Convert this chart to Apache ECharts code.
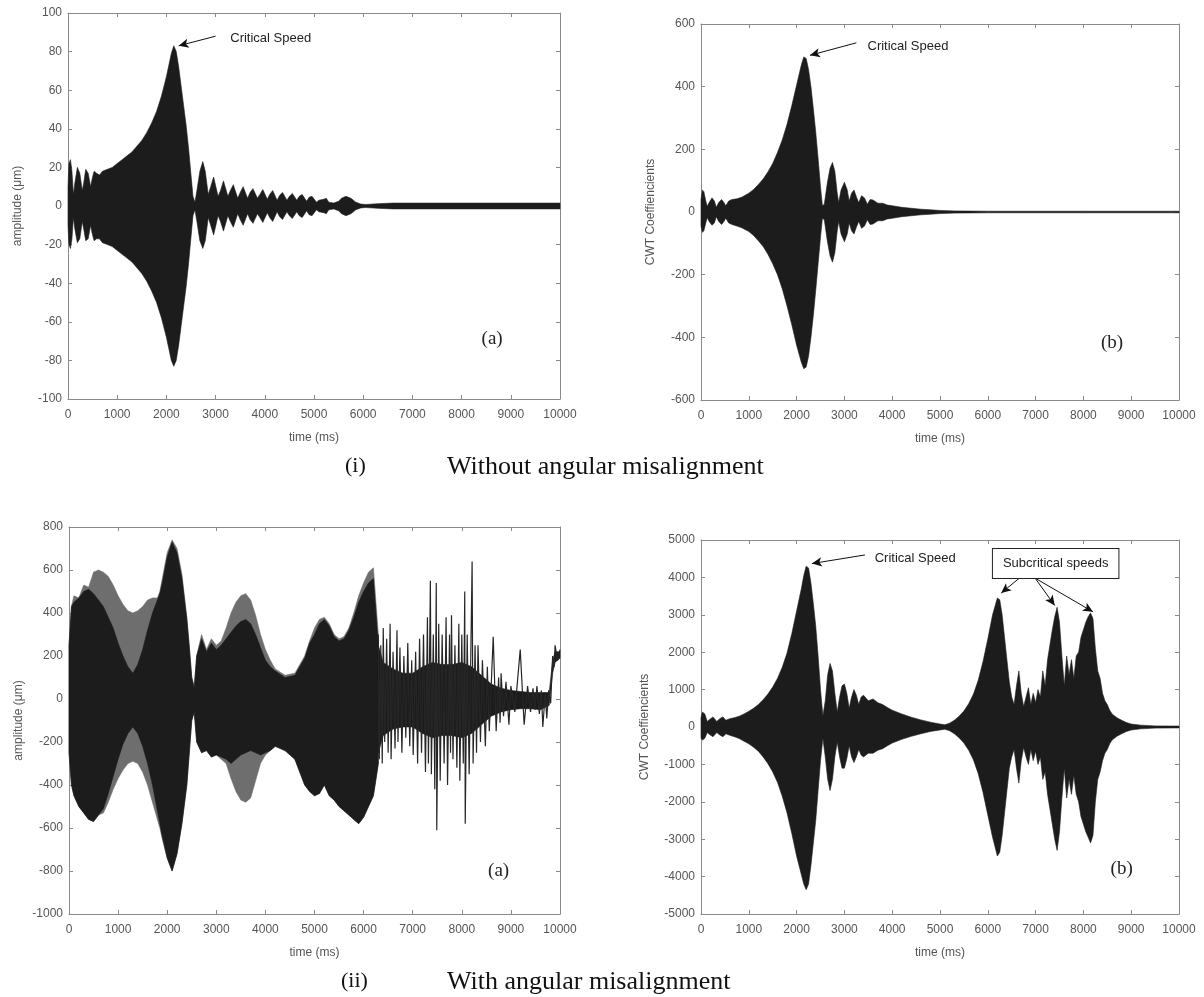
<!DOCTYPE html>
<html>
<head>
<meta charset="utf-8">
<script src="https://cdn.jsdelivr.net/npm/echarts@6/dist/echarts.min.js"></script>
<style>
  html, body { margin: 0; padding: 0; background: #ffffff; }
  #chart { width: 1204px; height: 997px; }
</style>
</head>
<body>
<div id="chart"></div>
<script>
// envelope of the signals (time in ms)

// (i)(a) amplitude without misalignment
const timeIa = [
  0, 20, 50, 80, 110, 140, 190, 240, 290, 320,
  360, 410, 460, 490, 530, 580, 640, 700, 800, 900,
  1000, 1100, 1200, 1300, 1400, 1500, 1600, 1700, 1800, 1900,
  2000, 2050, 2100, 2150, 2200, 2250, 2300, 2350, 2400, 2450,
  2500, 2540, 2580, 2620, 2680, 2740, 2790, 2850, 2900, 2960,
  3050, 3100, 3160, 3250, 3300, 3360, 3450, 3500, 3560, 3650,
  3700, 3760, 3850, 3900, 3960, 4050, 4100, 4160, 4250, 4300,
  4360, 4450, 4500, 4560, 4650, 4700, 4760, 4850, 4900, 4960,
  5050, 5100, 5200, 5250, 5300, 5400, 5500, 5560, 5650, 5750,
  5850, 5950, 6050, 6300, 6600, 7000, 7500, 8000, 8500, 9000,
  9500, 10000
]
const upperIa = [
  10, 22, 24, 18, 6, 12, 20, 17, 8, 12,
  19, 17, 10, 14, 18, 17, 16, 18, 19, 20,
  22, 24, 26, 28, 31, 34, 38, 43, 49, 57,
  67, 73, 79, 83, 80, 72, 62, 52, 42, 30,
  16, 5, 2, 8, 18, 23, 18, 6, 10, 15,
  5, 8, 13, 5, 8, 11, 4, 7, 10, 4,
  7, 9, 4, 6, 8.5, 3.5, 6, 8, 3, 5.5,
  7, 3, 5, 6.5, 3, 5, 6, 2.5, 4.5, 5,
  2, 3, 3.5, 4, 2, 1.5, 2.5, 4, 5, 4,
  2, 1, 0.8, 1.2, 1.5, 1.5, 1.5, 1.5, 1.5, 1.5,
  1.5, 1.5
]
const lowerIa = [
  -10, -20, -22, -17, -6, -12, -19, -17, -8, -12,
  -18, -17, -10, -14, -18, -17, -17, -19, -20, -21,
  -23, -25, -27, -29, -32, -35, -39, -44, -50, -58,
  -68, -74, -80, -83, -80, -72, -62, -52, -42, -30,
  -16, -5, -2, -8, -18, -22, -18, -6, -10, -15,
  -5, -8, -13, -5, -8, -11, -4, -7, -10, -4,
  -7, -9, -4, -6, -8.5, -3.5, -6, -8, -3, -5.5,
  -7, -3, -5, -6.5, -3, -5, -6, -2.5, -4.5, -5,
  -2, -3, -3.5, -4, -2, -1.5, -2.5, -4, -5, -4,
  -2, -1, -0.8, -1.2, -1.5, -1.5, -1.5, -1.5, -1.5, -1.5,
  -1.5, -1.5
]

// (i)(b) CWT coefficients without misalignment
const timeIb = [
  0, 30, 60, 100, 130, 170, 230, 280, 320, 370,
  430, 480, 520, 580, 650, 750, 850, 1000, 1100, 1200,
  1300, 1400, 1500, 1600, 1700, 1800, 1900, 2000, 2100, 2150,
  2200, 2250, 2300, 2350, 2400, 2450, 2500, 2540, 2580, 2640,
  2700, 2750, 2800, 2850, 2880, 2930, 3000, 3060, 3100, 3150,
  3200, 3260, 3300, 3360, 3420, 3480, 3540, 3600, 3700, 3800,
  3900, 4000, 4200, 4400, 4600, 4800, 5000, 5300, 5600, 6000,
  7000, 8000, 9000, 10000
]
const upperIb = [
  40, 70, 65, 35, 18, 30, 45, 35, 15, 30,
  40, 30, 20, 35, 40, 42, 47, 60, 72, 88,
  105, 128, 155, 190, 230, 280, 340, 405, 470, 495,
  490, 455, 400, 330, 255, 170, 80, 20, 25, 90,
  140, 158, 130, 60, 30, 70, 95, 70, 35, 60,
  70, 45, 30, 52, 45, 25, 40, 38, 28, 28,
  22, 20, 15, 12, 9, 7, 5, 3.5, 3, 2.5,
  2.5, 2.5, 2.5, 2.5
]
const lowerIb = [
  -45, -65, -60, -35, -18, -30, -42, -35, -15, -30,
  -40, -30, -20, -35, -40, -45, -50, -62, -75, -92,
  -110, -135, -165, -200, -245, -300, -360, -425, -480, -500,
  -495, -460, -400, -330, -250, -165, -80, -20, -25, -90,
  -140, -160, -130, -60, -30, -70, -95, -70, -35, -60,
  -70, -45, -30, -52, -45, -25, -40, -38, -28, -28,
  -22, -20, -15, -12, -9, -7, -5, -3.5, -3, -2.5,
  -2.5, -2.5, -2.5, -2.5
]

// (ii)(a) amplitude with misalignment, dense part: outer (grey) and inner (black) envelope
const timeIIa = [
  0, 50, 100, 200, 300, 400, 500, 600, 700, 800,
  900, 1000, 1100, 1200, 1300, 1400, 1500, 1600, 1700, 1800,
  1850, 1900, 2000, 2100, 2200, 2300, 2400, 2450, 2500, 2550,
  2600, 2700, 2800, 2900, 3000, 3100, 3200, 3300, 3400, 3500,
  3600, 3700, 3800, 3900, 4000, 4100, 4200, 4400, 4600, 4800,
  4900, 5000, 5100, 5200, 5300, 5400, 5500, 5600, 5700, 5800,
  5900, 6000, 6100, 6200, 6300
]
const outerUpIIa = [
  250, 430, 480, 470, 530, 520, 590, 600, 590, 570,
  530, 480, 440, 410, 400, 410, 430, 460, 470, 470,
  500, 560, 680, 740, 700, 580, 380, 250, 100, 60,
  200, 300, 230, 280, 250, 270, 330, 400, 450, 480,
  490, 460, 390, 300, 230, 180, 140, 110, 120, 200,
  270, 330, 370, 380, 350, 300, 280, 290, 330, 400,
  480, 540, 590, 610, 300
]
const outerLoIIa = [
  -250, -400, -450, -500, -530, -560, -570, -540, -530, -480,
  -420, -370, -330, -300, -290, -300, -340, -400, -480, -560,
  -600, -650, -740, -800, -720, -580, -400, -250, -100, -60,
  -200, -250, -240, -270, -260, -280, -300, -370, -430, -470,
  -480, -460, -380, -300, -260, -240, -220, -240, -280, -400,
  -430, -450, -440, -400, -450, -470, -500, -520, -540, -560,
  -580, -550, -500, -450, -300
]
const innerUpIIa = [
  250, 430, 450, 470, 500, 510, 490, 460, 430, 380,
  330, 260, 200, 150, 120, 160, 230, 320, 400, 460,
  490, 540, 660, 730, 680, 560, 370, 240, 100, 50,
  200, 280, 220, 260, 230, 250, 280, 310, 340, 360,
  370, 350, 300, 240, 180, 150, 130, 100, 110, 190,
  260, 300, 350, 370, 340, 290, 270, 280, 320, 380,
  450, 500, 540, 560, 250
]
const innerLoIIa = [
  -250, -400, -450, -500, -530, -560, -570, -540, -510, -440,
  -360, -280, -210, -160, -130, -160, -220, -300, -400, -520,
  -580, -640, -740, -800, -720, -580, -400, -250, -100, -60,
  -200, -250, -240, -270, -260, -270, -280, -300, -280, -260,
  -250, -240, -250, -260, -250, -240, -220, -240, -280, -400,
  -430, -450, -440, -400, -450, -470, -500, -520, -540, -560,
  -580, -550, -500, -450, -300
]
// (ii)(a) sparse tail: narrow core band and single spikes
const timeTailIIa = [6300, 6400, 6600, 6800, 7000, 7200, 7400, 7600, 7800, 8000, 8200, 8400, 8600, 8800, 9000, 9200, 9400, 9600, 9780, 9850, 9900, 10000]
const tailUpIIa = [250, 170, 140, 120, 120, 150, 170, 160, 160, 170, 150, 110, 70, 50, 40, 35, 30, 30, 30, 180, 220, 220]
const tailLoIIa = [-250, -170, -140, -130, -130, -160, -180, -170, -170, -180, -160, -120, -80, -60, -50, -45, -45, -50, -30, 120, 170, 190]
const spikeTimeIIa = [
  6300, 6320, 6350, 6380, 6400, 6430, 6470, 6500, 6540, 6560,
  6600, 6640, 6680, 6700, 6740, 6780, 6820, 6860, 6900, 6940,
  6980, 7010, 7060, 7100, 7140, 7180, 7220, 7260, 7300, 7320,
  7360, 7380, 7420, 7450, 7480, 7490, 7530, 7560, 7600, 7640,
  7680, 7710, 7750, 7770, 7790, 7820, 7860, 7900, 7940, 7960,
  8000, 8030, 8060, 8070, 8110, 8150, 8210, 8230, 8270, 8300,
  8330, 8380, 8420, 8480, 8520, 8560, 8640, 8700, 8750, 8780,
  8800, 8850, 8900, 8960, 9000, 9080, 9190, 9270, 9340, 9400,
  9450, 9490, 9530, 9580, 9620, 9650, 9700, 9730, 9770, 9810,
  9850, 9880, 9900, 9950, 10000
]
const spikeValIIa = [
  300, -280, 250, -300, 330, -200, 280, -250, 350, -280,
  220, -230, 320, -200, 240, -250, 200, -180, 260, -220,
  180, -260, 220, -300, 280, -250, 300, -340, 380, -300,
  550, -350, 300, -420, 540, -610, 350, -380, 300, -300,
  380, -400, 300, -250, 390, -280, 250, -320, 350, -380,
  300, -300, 500, -580, 300, -350, 640, -300, 250, -250,
  250, -200, 180, -220, 150, -150, 290, -150, 100, -110,
  120, -80, 80, -120, 60, -60, 230, -120, 60, -60,
  50, -50, 60, -70, 40, -130, 30, -90, 40, -20,
  200, 150, 250, 180, 230
]

// (ii)(b) CWT coefficients with misalignment
const timeIIb = [
  0, 30, 80, 130, 180, 250, 330, 400, 460, 520,
  600, 700, 800, 900, 1000, 1100, 1200, 1300, 1400, 1500,
  1600, 1700, 1800, 1900, 2000, 2100, 2150, 2200, 2250, 2300,
  2350, 2400, 2450, 2500, 2550, 2600, 2650, 2700, 2750, 2800,
  2850, 2900, 2950, 3000, 3050, 3100, 3150, 3200, 3250, 3300,
  3350, 3400, 3500, 3600, 3700, 3800, 3900, 4000, 4200, 4400,
  4600, 4800, 5000, 5100, 5200, 5300, 5400, 5500, 5600, 5700,
  5800, 5900, 6000, 6100, 6200, 6250, 6300, 6350, 6400, 6450,
  6500, 6550, 6600, 6650, 6700, 6750, 6800, 6850, 6900, 6950,
  7000, 7050, 7100, 7150, 7200, 7250, 7300, 7350, 7400, 7450,
  7500, 7550, 7600, 7650, 7700, 7750, 7800, 7850, 7900, 7950,
  8000, 8050, 8100, 8150, 8200, 8250, 8300, 8350, 8400, 8450,
  8500, 8550, 8600, 8700, 8800, 8900, 9000, 9200, 9500, 10000
]
const upperIIb = [
  250, 400, 350, 150, 200, 270, 150, 230, 270, 180,
  220, 250, 290, 350, 420, 500, 600, 730, 880, 1070,
  1300, 1600, 1980, 2500, 3100, 3700, 4050, 4300, 4250, 3850,
  3300, 2700, 1900, 1000, 300, 700, 1400, 1700, 1500, 900,
  400, 800, 1100, 1150, 900, 500, 800, 1000, 850, 600,
  800, 850, 700, 750, 650, 600, 520, 450, 350, 260,
  190, 130, 80, 60, 100, 180, 290, 430, 620, 880,
  1250, 1750, 2350, 3000, 3450, 3400, 3000, 2400, 1800, 1200,
  800, 600, 1100, 1500, 900, 550, 800, 1050, 600, 900,
  650, 1000, 800, 1500, 1100, 1800, 2200, 2600, 2950, 3200,
  2800, 1900, 1100, 1900, 1400, 1800, 1300, 1900, 2000, 2400,
  2600, 2800, 2950, 3050, 2900, 2100, 1500, 1300, 900, 700,
  600, 450, 350, 250, 180, 120, 80, 50, 30, 25
]
const lowerIIb = [
  -300, -350, -300, -150, -200, -260, -150, -220, -260, -180,
  -220, -260, -310, -380, -450, -540, -650, -800, -980, -1200,
  -1480, -1850, -2300, -2850, -3450, -3950, -4200, -4350, -4200, -3700,
  -3100, -2500, -1700, -900, -300, -800, -1400, -1700, -1400, -800,
  -400, -800, -1100, -1100, -850, -500, -800, -950, -800, -600,
  -750, -800, -700, -700, -620, -580, -500, -430, -330, -250,
  -180, -120, -80, -60, -100, -180, -290, -430, -620, -880,
  -1250, -1750, -2350, -2950, -3450, -3350, -2900, -2300, -1700, -1100,
  -800, -600, -1100, -1500, -900, -550, -800, -1000, -600, -900,
  -650, -1000, -800, -1400, -1200, -1800, -2200, -2600, -3000, -3300,
  -2800, -1900, -1100, -1900, -1400, -1800, -1300, -1800, -2000, -2400,
  -2600, -2800, -2950, -3100, -2900, -2000, -1400, -1200, -900, -700,
  -600, -450, -350, -250, -180, -120, -80, -50, -30, -25
]

const chart = echarts.init(document.getElementById('chart'))

const axisGrey = '#8a8a8a'
const labelGrey = '#555555'
const sansFont = 'Liberation Sans'
const serifFont = 'Liberation Serif'

// grids: plot boxes in pixels
const grids = [
  { left: 68, top: 13, width: 492, height: 386 },
  { left: 701, top: 24, width: 478, height: 376 },
  { left: 69, top: 527, width: 491, height: 387 },
  { left: 701, top: 540, width: 478, height: 374 }
]
const yRanges = [
  { min: -100, max: 100, interval: 20, name: 'amplitude (\u03bcm)', gap: 44 },
  { min: -600, max: 600, interval: 200, name: 'CWT Coeffiencients', gap: 44 },
  { min: -1000, max: 800, interval: 200, name: 'amplitude (\u03bcm)', gap: 44 },
  { min: -5000, max: 5000, interval: 1000, name: 'CWT Coeffiencients', gap: 50 }
]
const plainNumber = function (v) { return String(v) }

const xAxes = []
const yAxes = []
grids.forEach(function (g, i) {
  xAxes.push({
    gridIndex: i, type: 'value', min: 0, max: 10000, interval: 1000,
    name: 'time (ms)', nameLocation: 'middle', nameGap: 33,
    nameTextStyle: { color: labelGrey, fontSize: 12, fontFamily: sansFont },
    axisLine: { onZero: false, lineStyle: { color: axisGrey } },
    axisTick: { inside: true, length: 4, lineStyle: { color: axisGrey } },
    axisLabel: { color: labelGrey, fontSize: 12, fontFamily: sansFont, margin: 10, formatter: plainNumber },
    splitLine: { show: false }
  })
  xAxes.push({
    gridIndex: i, type: 'value', position: 'top', min: 0, max: 10000, interval: 1000,
    axisLine: { onZero: false, lineStyle: { color: axisGrey } },
    axisTick: { inside: true, length: 4, lineStyle: { color: axisGrey } },
    axisLabel: { show: false }, splitLine: { show: false }
  })
  const r = yRanges[i]
  yAxes.push({
    gridIndex: i, type: 'value', min: r.min, max: r.max, interval: r.interval,
    name: r.name, nameLocation: 'middle', nameGap: r.gap,
    nameTextStyle: { color: labelGrey, fontSize: 12, fontFamily: sansFont },
    axisLine: { show: true, onZero: false, lineStyle: { color: axisGrey } },
    axisTick: { show: true, inside: true, length: 4, lineStyle: { color: axisGrey } },
    axisLabel: { color: labelGrey, fontSize: 12, fontFamily: sansFont, margin: 6, formatter: plainNumber },
    splitLine: { show: false }
  })
  yAxes.push({
    gridIndex: i, type: 'value', position: 'right', min: r.min, max: r.max, interval: r.interval,
    axisLine: { show: true, onZero: false, lineStyle: { color: axisGrey } },
    axisTick: { show: true, inside: true, length: 4, lineStyle: { color: axisGrey } },
    axisLabel: { show: false }, splitLine: { show: false }
  })
})

// filled envelope drawn as one polygon through the axis scales
function band(gi, times, hi, lo, color, extra) {
  return Object.assign({
    type: 'custom',
    xAxisIndex: gi * 2,
    yAxisIndex: gi * 2,
    silent: true,
    data: times.map(function (t, i) { return [t, hi[i], lo[i]] }),
    encode: { x: 0, y: [1, 2] },
    renderItem: function (params, api) {
      if (params.dataIndex !== 0) return
      const pts = []
      for (let i = 0; i < times.length; i++) pts.push(api.coord([times[i], hi[i]]))
      for (let i = times.length - 1; i >= 0; i--) pts.push(api.coord([times[i], lo[i]]))
      return {
        type: 'polygon',
        shape: { points: pts },
        style: { fill: color, stroke: color, lineWidth: 0.6 }
      }
    }
  }, extra || {})
}

const arrowLine = {
  silent: true,
  symbol: ['none', 'arrow'],
  symbolSize: [7, 10],
  label: { show: false },
  lineStyle: { color: '#111', width: 1, type: 'solid' }
}
function textMark(coord, text, font, size, extra) {
  return {
    coord: coord,
    symbolSize: 0,
    label: Object.assign({
      show: true, position: 'inside', formatter: text,
      color: '#222', fontFamily: font, fontSize: size
    }, extra || {})
  }
}
const dark = '#1c1c1c'

const series = [
  band(0, timeIa, upperIa, lowerIa, dark, {
    markLine: Object.assign({ data: [[{ coord: [3000, 88] }, { coord: [2250, 83] }]] }, arrowLine),
    markPoint: { silent: true, data: [
      textMark([4120, 87], 'Critical Speed', sansFont, 13),
      textMark([8620, -69], '(a)', serifFont, 19)
    ] }
  }),
  band(1, timeIb, upperIb, lowerIb, dark, {
    markLine: Object.assign({ data: [[{ coord: [3250, 540] }, { coord: [2280, 500] }]] }, arrowLine),
    markPoint: { silent: true, data: [
      textMark([4330, 527], 'Critical Speed', sansFont, 13),
      textMark([8600, -418], '(b)', serifFont, 19)
    ] }
  }),
  band(2, timeIIa, outerUpIIa, outerLoIIa, '#6e6e6e'),
  band(2, timeIIa, innerUpIIa, innerLoIIa, dark, {
    markPoint: { silent: true, data: [
      textMark([8750, -800], '(a)', serifFont, 19)
    ] }
  }),
  band(2, timeTailIIa, tailUpIIa, tailLoIIa, dark),
  {
    type: 'line', xAxisIndex: 4, yAxisIndex: 4, silent: true,
    symbol: 'none',
    lineStyle: { color: '#262626', width: 1.2 },
    data: spikeTimeIIa.map(function (t, i) { return [t, spikeValIIa[i]] })
  },
  band(3, timeIIb, upperIIb, lowerIIb, dark, {
    markLine: Object.assign({ data: [
      [{ coord: [3430, 4600] }, { coord: [2320, 4370] }],
      [{ coord: [6660, 3980] }, { coord: [6280, 3580] }],
      [{ coord: [6990, 3980] }, { coord: [7400, 3250] }],
      [{ coord: [6990, 3980] }, { coord: [8200, 3080] }]
    ] }, arrowLine),
    markPoint: { silent: true, data: [
      textMark([4480, 4500], 'Critical Speed', sansFont, 13),
      textMark([7420, 4370], 'Subcritical speeds', sansFont, 13, {
        borderColor: '#222', borderWidth: 1, backgroundColor: '#fff', padding: [8, 10]
      }),
      textMark([8800, -3800], '(b)', serifFont, 19)
    ] }
  })
]

chart.setOption({
  backgroundColor: '#ffffff',
  animation: false,
  grid: grids,
  xAxis: xAxes,
  yAxis: yAxes,
  series: series,
  graphic: [
    { type: 'text', left: 345, top: 455, style: { text: '(i)', font: '22px "Liberation Serif"', fill: '#111' } },
    { type: 'text', left: 447, top: 454, style: { text: 'Without angular misalignment', font: '26px "Liberation Serif"', fill: '#111' } },
    { type: 'text', left: 341, top: 970, style: { text: '(ii)', font: '22px "Liberation Serif"', fill: '#111' } },
    { type: 'text', left: 447, top: 969, style: { text: 'With angular misalignment', font: '26px "Liberation Serif"', fill: '#111' } }
  ]
})

window.onresize = function () {
  chart.resize()
}
</script>
</body>
</html>
